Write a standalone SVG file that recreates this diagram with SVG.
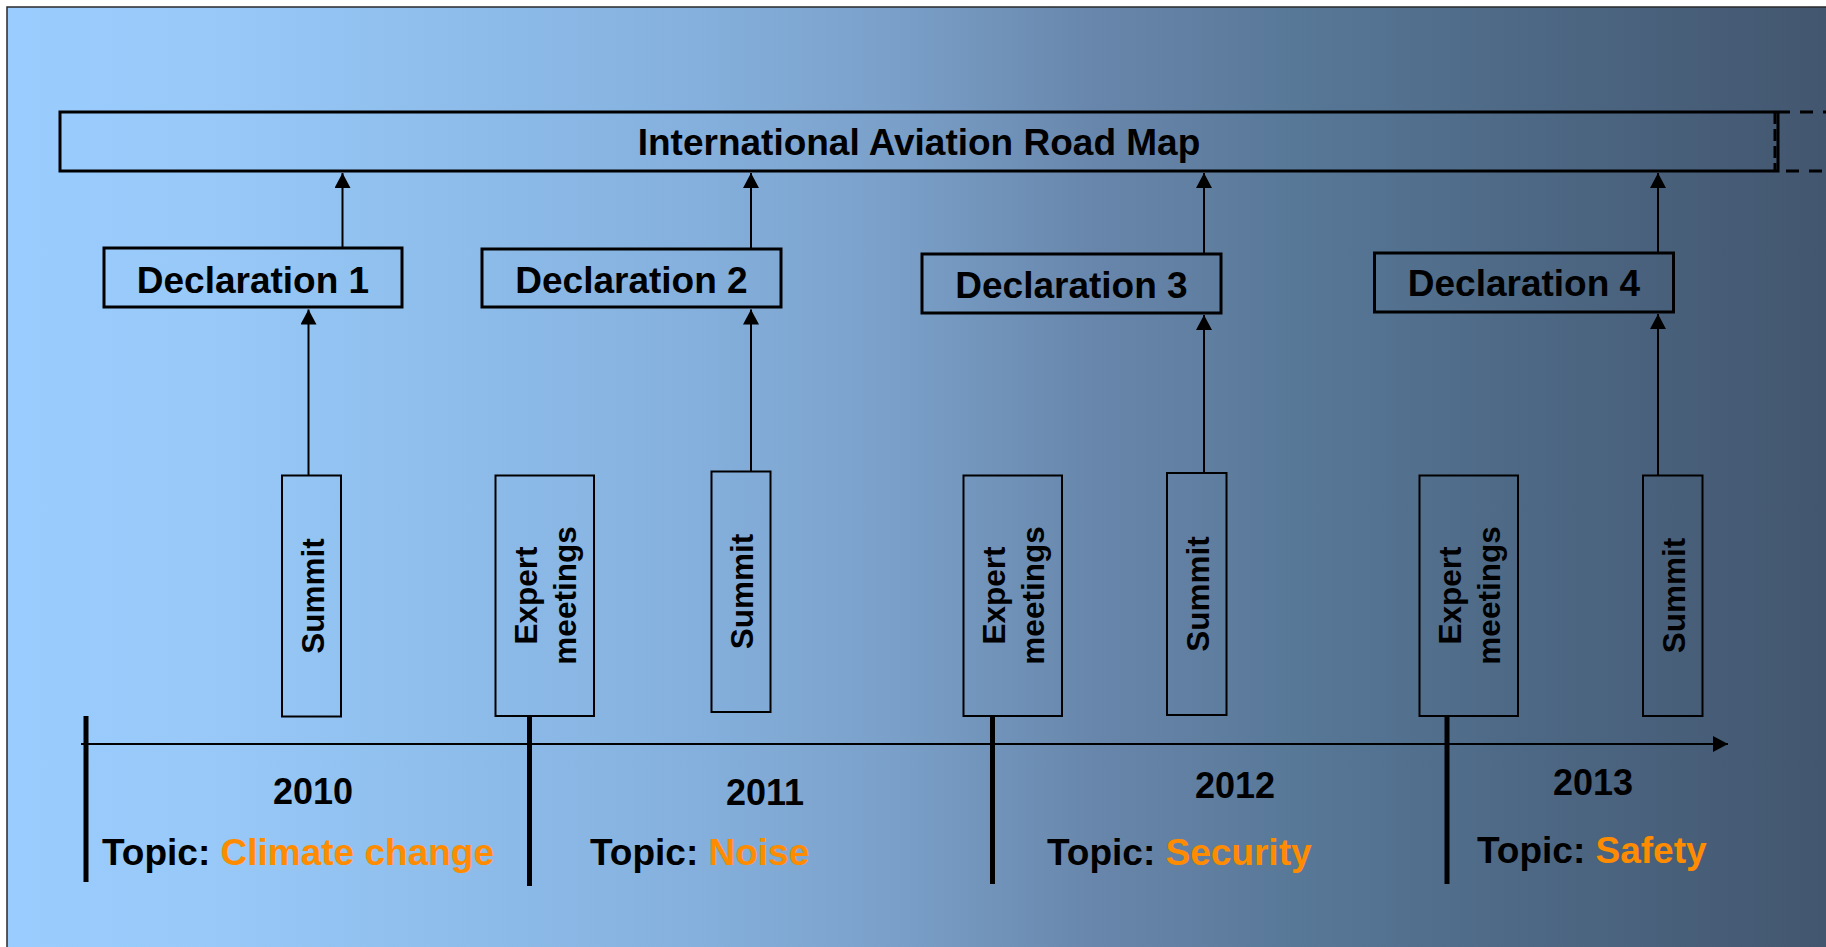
<svg xmlns="http://www.w3.org/2000/svg" width="1826" height="947" viewBox="0 0 1826 947">
<defs>
<linearGradient id="bg" x1="0" y1="0" x2="1826" y2="0" gradientUnits="userSpaceOnUse">
<stop offset="0" stop-color="#9ACCFF"/>
<stop offset="0.11" stop-color="#98C9F8"/>
<stop offset="0.25" stop-color="#8EBDEB"/>
<stop offset="0.38" stop-color="#85B0DD"/>
<stop offset="0.49" stop-color="#7AA0C9"/>
<stop offset="0.60" stop-color="#6886AB"/>
<stop offset="0.71" stop-color="#587898"/>
<stop offset="0.82" stop-color="#4E6A87"/>
<stop offset="1" stop-color="#43566F"/>
</linearGradient>
<marker id="ah" markerUnits="userSpaceOnUse" markerWidth="16" markerHeight="16" refX="15" refY="8" orient="auto">
<path d="M0,0 L15,8 L0,16 Z" fill="#000"/>
</marker>
<style>
text{font-family:"Liberation Sans",Arial,Helvetica,sans-serif;font-weight:bold;fill:#000}
.t37{font-size:37px}
.t36{font-size:36px}
.rot{font-size:31.5px}
.org{fill:#FF8C00}
.thick{fill:none;stroke:#000;stroke-width:3}
.thin{fill:none;stroke:#000;stroke-width:2}
.conn{fill:none;stroke:#000;stroke-width:2;marker-end:url(#ah)}
.bar{stroke:#000;stroke-width:5;fill:none}
</style>
</defs>
<rect x="0" y="0" width="1826" height="947" fill="#fff"/>
<rect x="7" y="7" width="1840" height="960" fill="url(#bg)" stroke="#2a2a2a" stroke-width="1.5"/>

<g id="roadmap">
<rect x="60" y="112" width="1718" height="59" class="thick"/>
<path d="M1775,112 V171" fill="none" stroke="#000" stroke-width="3" stroke-dasharray="12 5"/>
<path d="M1779,112 H1830" fill="none" stroke="#000" stroke-width="3" stroke-dasharray="11 10 13 10 13 10"/>
<path d="M1786,171 H1830" fill="none" stroke="#000" stroke-width="3" stroke-dasharray="13 10"/>
<text class="t37" x="919" y="155" text-anchor="middle">International Aviation Road Map</text>
</g>

<g id="declaration1">
<rect x="104" y="248" width="298" height="59" class="thick"/>
<text class="t37" x="253" y="293" text-anchor="middle">Declaration 1</text>
</g>
<g id="declaration2">
<rect x="482" y="249" width="299" height="58" class="thick"/>
<text class="t37" x="631.5" y="293" text-anchor="middle">Declaration 2</text>
</g>
<g id="declaration3">
<rect x="922" y="254" width="299" height="59" class="thick"/>
<text class="t37" x="1071.5" y="298" text-anchor="middle">Declaration 3</text>
</g>
<g id="declaration4">
<rect x="1374.5" y="253" width="299" height="59" class="thick"/>
<text class="t37" x="1524" y="296" text-anchor="middle">Declaration 4</text>
</g>

<g id="summit1">
<rect x="282" y="475.5" width="59" height="241" class="thin"/>
<text class="rot" transform="translate(311.5,596) rotate(-90)" text-anchor="middle" x="0" y="12">Summit</text>
</g>
<g id="expert1">
<rect x="495.5" y="475.5" width="98.5" height="240.5" class="thin"/>
<text class="rot" transform="translate(544.5,595.5) rotate(-90)" text-anchor="middle"><tspan x="0" y="-7.5">Expert</tspan><tspan x="0" y="31.5">meetings</tspan></text>
</g>
<g id="summit2">
<rect x="711.5" y="471.5" width="59" height="240.5" class="thin"/>
<text class="rot" transform="translate(741,591.5) rotate(-90)" text-anchor="middle" x="0" y="12">Summit</text>
</g>
<g id="expert2">
<rect x="963.5" y="475.5" width="98.5" height="240.5" class="thin"/>
<text class="rot" transform="translate(1012.8,595.5) rotate(-90)" text-anchor="middle"><tspan x="0" y="-7.5">Expert</tspan><tspan x="0" y="31.5">meetings</tspan></text>
</g>
<g id="summit3">
<rect x="1167" y="473" width="59.5" height="242" class="thin"/>
<text class="rot" transform="translate(1197,594) rotate(-90)" text-anchor="middle" x="0" y="12">Summit</text>
</g>
<g id="expert3">
<rect x="1419.5" y="475.5" width="98.5" height="240.5" class="thin"/>
<text class="rot" transform="translate(1468.7,595.5) rotate(-90)" text-anchor="middle"><tspan x="0" y="-7.5">Expert</tspan><tspan x="0" y="31.5">meetings</tspan></text>
</g>
<g id="summit4">
<rect x="1643" y="475.5" width="59.5" height="240.5" class="thin"/>
<text class="rot" transform="translate(1672.7,595.5) rotate(-90)" text-anchor="middle" x="0" y="12">Summit</text>
</g>

<g id="timeline">
<path class="bar" d="M86,716 V882"/>
<path class="bar" d="M529.5,716 V886"/>
<path class="bar" d="M992.5,716 V884"/>
<path class="bar" d="M1447,716 V884"/>
</g>

<g id="year2010">
<text class="t36" x="313" y="804" text-anchor="middle">2010</text>
<text class="t37" x="102" y="865">Topic: <tspan class="org">Climate change</tspan></text>
</g>
<g id="year2011">
<text class="t36" x="765" y="805" text-anchor="middle">2011</text>
<text class="t37" x="590" y="865">Topic: <tspan class="org">Noise</tspan></text>
</g>
<g id="year2012">
<text class="t36" x="1235" y="798" text-anchor="middle">2012</text>
<text class="t37" x="1047" y="865">Topic: <tspan class="org">Security</tspan></text>
</g>
<g id="year2013">
<text class="t36" x="1593" y="795" text-anchor="middle">2013</text>
<text class="t37" x="1477" y="863">Topic: <tspan class="org">Safety</tspan></text>
</g>

<g id="connectors">
<path class="conn" d="M81,744 H1728"/>
<path class="conn" d="M342.5,248 V173"/>
<path class="conn" d="M308.5,475 V309.5"/>
<path class="conn" d="M751,249 V173"/>
<path class="conn" d="M751,471 V309.5"/>
<path class="conn" d="M1204,254 V173"/>
<path class="conn" d="M1204,473 V315"/>
<path class="conn" d="M1658,253 V173"/>
<path class="conn" d="M1658,475 V314"/>
</g>
</svg>
